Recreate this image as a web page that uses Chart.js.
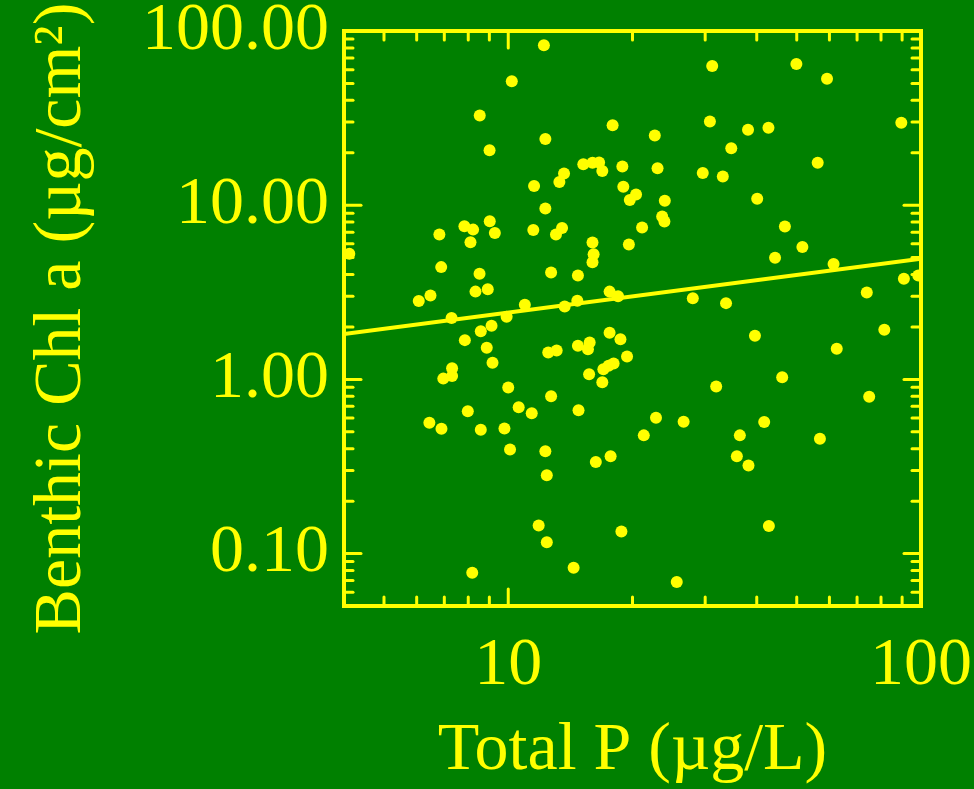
<!DOCTYPE html>
<html><head><meta charset="utf-8">
<script src="https://cdn.jsdelivr.net/npm/chart.js@4"></script>
<style>html,body{margin:0;padding:0;background:#008000;overflow:hidden}canvas{display:block}</style>
</head><body>
<canvas id="c" width="974" height="789"></canvas>
<script>
const totalP = [10.2, 8.53, 9.01, 11.55, 9.02, 7.83, 8.22, 6.81, 9.28, 11.5, 8.10, 4.12, 6.88, 8.52, 6.48, 6.07, 8.33, 8.92, 10.97, 7.29, 9.91,
  12.2, 31.2, 17.9, 30.8, 12.3, 22.65, 15.2, 16.0, 16.6, 16.9, 18.9, 23.0, 29.6, 33.1, 13.65, 13.3, 19.0, 20.4, 19.7, 23.95, 12.3, 13.5, 13.05,
  23.6, 23.9, 21.1, 16.0, 19.6, 16.1, 16.0, 12.7, 14.75, 17.6, 18.45, 28.0, 14.7, 13.7, 33.7,
  49.9, 59.2, 38.1, 42.7, 89.6, 34.7, 56.2, 40.1, 46.8, 51.6, 44.3, 61.4, 90.9, 98.5, 73.9,
  9.11, 8.58, 7.85, 8.87, 9.16, 7.31, 6.96, 7.31, 10.0, 10.6, 11.4, 7.98, 6.44, 6.89, 8.58, 9.79, 10.1, 11.85, 8.18,
  17.6, 18.7, 14.75, 15.75, 15.6, 12.5, 13.1, 19.4, 18.0, 17.5, 17.0, 15.7, 16.9, 31.9, 12.7, 14.8, 22.8, 26.6, 21.3, 12.3, 16.3, 17.7, 12.4,
  18.8, 12.4, 14.4, 25.6,
  39.6, 62.5, 81.5, 46.1, 74.9, 41.7, 36.4, 56.9, 35.8, 38.2, 42.8];
const chlA = [51.4, 32.7, 20.7, 12.9, 8.09, 7.57, 7.24, 6.78, 6.92, 7.20, 6.12, 5.27, 4.41, 4.04, 3.03, 2.82, 3.19, 3.29, 2.68, 2.25, 2.29,
  82.8, 63.0, 28.8, 30.2, 24.0, 25.1, 17.2, 17.5, 17.6, 15.7, 16.7, 16.3, 15.3, 14.6, 15.2, 13.6, 12.75, 11.5, 10.7, 10.6, 9.57, 7.40, 6.78,
  8.61, 8.05, 7.44, 6.10, 5.94, 5.22, 4.71, 4.11, 3.95, 3.19, 3.00, 2.92, 2.83, 2.62, 2.74,
  64.7, 53.2, 27.1, 27.8, 29.7, 21.2, 17.5, 10.9, 7.54, 5.75, 4.99, 4.59, 3.78, 3.95, 3.15,
  2.03, 1.89, 1.68, 1.52, 1.245, 1.16, 1.01, 1.047, 0.897, 0.692, 0.639, 0.656, 0.564, 0.521, 0.514, 0.523, 0.396, 0.145, 0.0777,
  1.85, 1.70, 1.56, 1.63, 1.49, 1.427, 1.466, 1.353, 1.233, 1.196, 1.145, 1.071, 0.963, 0.909, 0.800, 0.665, 0.602, 0.571, 0.477, 0.387, 0.335, 0.362, 0.282,
  0.134, 0.116, 0.083, 0.0687,
  1.78, 1.50, 1.93, 1.03, 0.796, 0.569, 0.477, 0.456, 0.362, 0.320, 0.144];
const fitX = [4, 100];
const fitY = [1.82, 4.93];
const xTickValues = [10, 100];
const xTickLabels = ['10', '100'];
const yTickValues = [0.1, 1, 10, 100];
const yTickLabels = ['0.10', '1.00', '10.00', '100.00'];
const xMinorTicks = [5, 6, 7, 8, 9, 20, 30, 40, 50, 60, 70, 80, 90];
const yMinorTicks = [0.06, 0.07, 0.08, 0.09, 0.2, 0.3, 0.4, 0.5, 0.6, 0.7, 0.8, 0.9, 2, 3, 4, 5, 6, 7, 8, 9, 20, 30, 40, 50, 60, 70, 80, 90];
const xTitle = 'Total P (µg/L)';
const yTitle = 'Benthic Chl a (µg/cm²)';

const YELLOW = '#ffff00', GREEN = '#008000';
const FONT = "'Liberation Serif', 'Times New Roman', serif";

const framePlugin = {
  id: 'frame',
  beforeDraw(chart) {
    const ctx = chart.ctx;
    ctx.save();
    ctx.fillStyle = GREEN;
    ctx.fillRect(0, 0, chart.width, chart.height);
    ctx.restore();
  },
  afterDatasetsDraw(chart) {
    const {ctx, chartArea: a, scales: {x, y}} = chart;
    ctx.save();
    ctx.strokeStyle = YELLOW;
    ctx.lineCap = 'round';
    ctx.lineWidth = 3;
    const seg = (x1, y1, x2, y2) => { ctx.beginPath(); ctx.moveTo(x1, y1); ctx.lineTo(x2, y2); ctx.stroke(); };
    const xt = (vals, len) => vals.forEach(v => {
      if (v <= x.min || v >= x.max) return;
      const p = x.getPixelForValue(v);
      seg(p, a.bottom, p, a.bottom - len);
      seg(p, a.top, p, a.top + len);
    });
    const yt = (vals, len) => vals.forEach(v => {
      if (v <= y.min || v >= y.max) return;
      const p = y.getPixelForValue(v);
      seg(a.left, p, a.left + len, p);
      seg(a.right, p, a.right - len, p);
    });
    xt(xTickValues, 17); xt(xMinorTicks, 9);
    yt(yTickValues, 17); yt(yMinorTicks, 9);
    ctx.lineWidth = 4;
    ctx.lineCap = 'square';
    ctx.strokeRect(a.left, a.top, a.right - a.left, a.bottom - a.top);
    ctx.restore();
  }
};

new Chart(document.getElementById('c'), {
  type: 'scatter',
  data: { datasets: [
    { label: 'fit', type: 'scatter', showLine: true, data: fitX.map((v, i) => ({x: v, y: fitY[i]})),
      borderColor: YELLOW, backgroundColor: YELLOW, borderWidth: 4, pointRadius: 0, pointHoverRadius: 0, fill: false },
    { label: 'sites', data: totalP.map((v, i) => ({x: v, y: chlA[i]})),
      backgroundColor: YELLOW, borderColor: YELLOW, borderWidth: 0, pointRadius: 6, pointHoverRadius: 6 }
  ]},
  options: {
    responsive: false, animation: false, devicePixelRatio: 1, events: [],
    layout: { padding: { top: 31, right: 53, left: 0, bottom: 0 } },
    plugins: { legend: { display: false }, tooltip: { enabled: false } },
    scales: {
      x: {
        type: 'logarithmic', min: 4, max: 100, position: 'bottom',
        grid: { display: false, drawTicks: false }, border: { display: false },
        afterBuildTicks: s => { s.ticks = xTickValues.map(v => ({value: v})); },
        afterFit: s => { s.height = 183; s.paddingLeft = 0; s.paddingRight = 0; s.paddingTop = 0; s.paddingBottom = 0; },
        ticks: { color: YELLOW, font: { family: FONT, size: 68, lineHeight: 1.2 }, padding: 19, autoSkip: false, maxRotation: 0, minRotation: 0,
          callback: v => { const i = xTickValues.indexOf(v); return i < 0 ? '' : xTickLabels[i]; } },
        title: { display: true, text: xTitle, color: YELLOW, font: { family: FONT, size: 68, lineHeight: 1 }, padding: { top: 0, bottom: 4 } }
      },
      y: {
        type: 'logarithmic', min: 0.05, max: 100, position: 'left',
        grid: { display: false, drawTicks: false }, border: { display: false },
        afterBuildTicks: s => { s.ticks = yTickValues.map(v => ({value: v})); },
        afterFit: s => { s.width = 344; s.paddingLeft = 0; s.paddingRight = 0; s.paddingTop = 0; s.paddingBottom = 0; },
        ticks: { color: YELLOW, font: { family: FONT, size: 68, lineHeight: 1.2 }, padding: 15, autoSkip: false,
          callback: v => { const i = yTickValues.indexOf(v); return i < 0 ? '' : yTickLabels[i]; } },
        title: { display: true, text: yTitle, color: YELLOW, font: { family: FONT, size: 68, lineHeight: 1.2 }, padding: { top: 21, bottom: 0 } }
      }
    }
  },
  plugins: [framePlugin]
});
</script>
</body></html>
